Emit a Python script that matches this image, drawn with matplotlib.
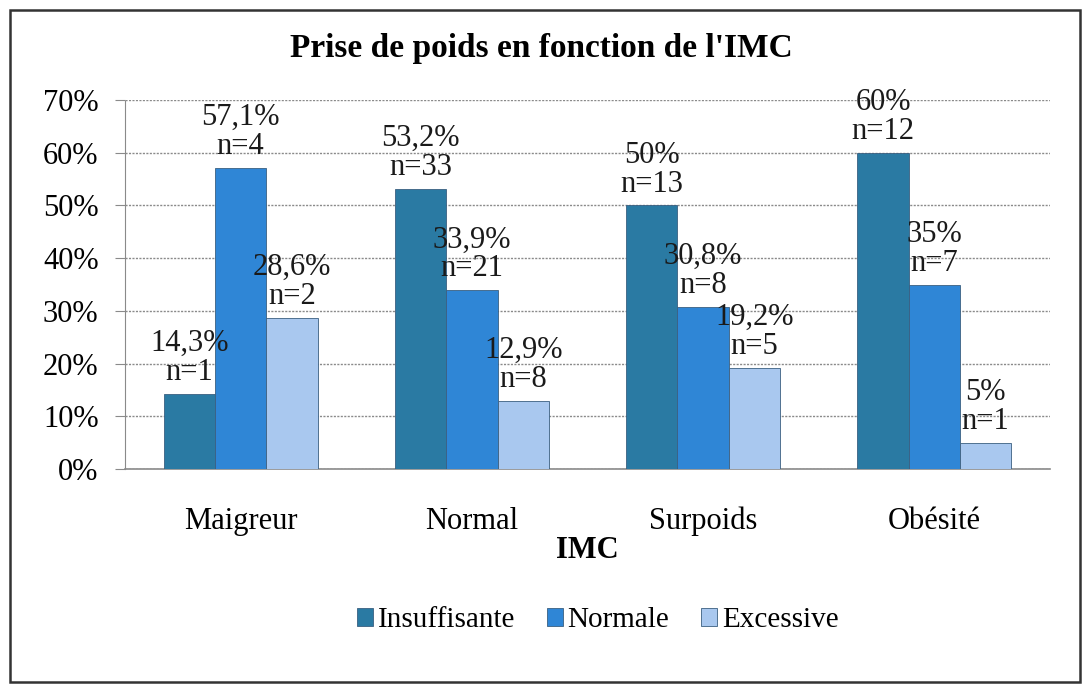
import matplotlib
matplotlib.use("Agg")
import matplotlib.pyplot as plt
import numpy as np
from matplotlib.patches import Rectangle

plt.rcParams['font.family'] = ['Liberation Serif', 'DejaVu Serif']

categories = ["Maigreur", "Normal", "Surpoids", "Obésité"]
series = ["Insuffisante", "Normale", "Excessive"]
values = {
    "Insuffisante": [14.3, 53.2, 50.0, 60.0],
    "Normale": [57.1, 33.9, 30.8, 35.0],
    "Excessive": [28.6, 12.9, 19.2, 5.0],
}
pct_labels = {
    "Insuffisante": ["14,3%", "53,2%", "50%", "60%"],
    "Normale": ["57,1%", "33,9%", "30,8%", "35%"],
    "Excessive": ["28,6%", "12,9%", "19,2%", "5%"],
}
counts = {
    "Insuffisante": [1, 33, 13, 12],
    "Normale": [4, 21, 8, 7],
    "Excessive": [2, 8, 5, 1],
}
yticks = [0, 10, 20, 30, 40, 50, 60, 70]
colors = {"Insuffisante": "#2a7aa3", "Normale": "#2f86d6", "Excessive": "#a9c8ef"}

FS = 22

fig = plt.figure(figsize=(10.83, 6.86), dpi=100)
ax = fig.add_axes([0.1154, 0.3163, 0.8541, 0.5379])

x = np.arange(len(categories))
w = 0.222
for i, s in enumerate(series):
    offs = (i - 1) * w
    ax.bar(x + offs, values[s], width=w, color=colors[s],
           edgecolor="#3a5f80", linewidth=0.6, zorder=3, label=s)
    for xi, v, pl, n in zip(x + offs, values[s], pct_labels[s], counts[s]):
        ax.annotate(f"{pl}\nn={n}", (xi, v), xytext=(0, 5), textcoords="offset points",
                    ha="center", va="bottom", fontsize=FS, linespacing=1.0,
                    color="#1a1a1a", zorder=5)

ax.set_ylim(0, 70)
ax.set_xlim(-0.5, 3.5)
ax.set_yticks(yticks)
ax.set_yticklabels([f"{t}%" for t in yticks], fontsize=FS)
ax.set_xticks(x)
ax.set_xticklabels(categories, fontsize=FS)
ax.tick_params(axis='y', length=7, color="#8a8a8a", pad=12)
ax.tick_params(axis='x', length=0, pad=27)
ax.grid(axis='y', color="#8a8a8a", linestyle=(0, (1.5, 1)), linewidth=1.0, zorder=0)
for sp in ["top", "right"]:
    ax.spines[sp].set_visible(False)
ax.spines["left"].set_color("#8a8a8a")
ax.spines["left"].set_linestyle((0, (1.5, 1)))
ax.spines["bottom"].set_color("#8a8a8a")
ax.spines["bottom"].set_linewidth(1.2)

ax.set_xlabel("IMC", fontsize=FS, fontweight="bold", labelpad=0)
fig.text(0.5, 0.930, "Prise de poids en fonction de l'IMC", ha="center", va="center",
         fontsize=24, fontweight="bold")

fig.legend(loc="center", bbox_to_anchor=(0.552, 0.096), ncol=3, frameon=False,
           fontsize=21, handlelength=0.55, handleheight=0.55, handletextpad=0.15,
           columnspacing=1.1)

fig.patches.append(Rectangle((0.009, 0.006), 0.988, 0.980, transform=fig.transFigure,
                             fill=False, edgecolor="#333333", linewidth=1.8))

fig.savefig("out.png", dpi=100)
